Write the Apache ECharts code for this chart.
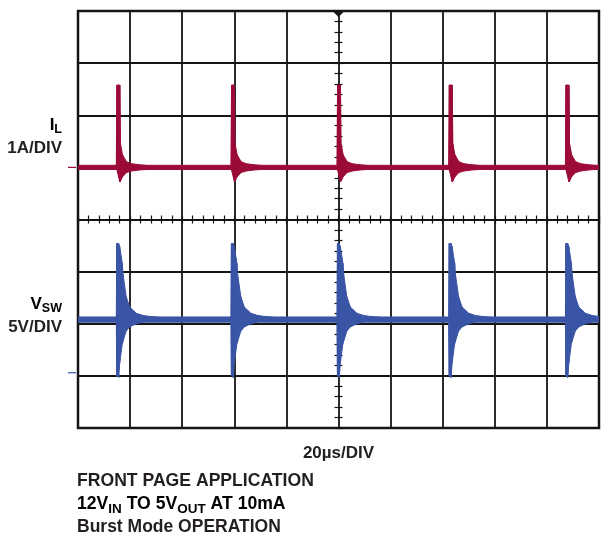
<!DOCTYPE html>
<html><head><meta charset="utf-8">
<script src="https://cdn.jsdelivr.net/npm/echarts@6/dist/echarts.min.js"></script>
<style>html,body{margin:0;padding:0;background:#fff}#c{width:609px;height:538px}</style>
</head><body><div id="c"></div>
<script>
// ---- data ----
const timeRange = [0, 200];            // µs, 20 µs/div
const divRangeX = [-5, 5];             // horizontal divisions
const divRangeY = [-4, 4];             // vertical divisions
const ilRange = [-5, 3];               // A, 1 A/div
const vswRange = [-5.3, 34.7];         // V, 5 V/div
const spikeTimes = [15.6, 59.6, 100.3, 143.2, 188.0]; // µs, burst instants

// inductor current burst envelope (offset from burst instant, µs; A)
const ilOffsets = [-0.9, -0.65, 0.45, 0.7, 1.5, 3.0, 5.0, 8.0, 11.0];
const ilUpper   = [0.04, 1.58, 1.58, 0.45, 0.24, 0.11, 0.07, 0.05, 0.04];
const ilLower   = [-0.04, -0.05, -0.28, -0.26, -0.18, -0.10, -0.07, -0.05, -0.04];
const ilBaseline = [0.04, -0.04];

// switch node voltage burst envelope (offset, µs; V)
const vswOffsets = [-0.9, -0.7, 0.0, 0.4, 1.4, 1.65, 2.9, 4.25, 6.8, 9.3, 12.0, 16.0];
const vswUpper   = [5.35, 12.4, 12.4, 12.1, 10.5, 9.5, 7.3, 6.3, 5.7, 5.5, 5.4, 5.35];
const vswLower   = [4.85, -0.3, -0.45, 0.9, 2.8, 3.0, 4.0, 4.4, 4.7, 4.85, 4.85, 4.85];
const vswBaseline = [5.35, 4.85];

const RED = '#9c0b38', BLUE = '#3a55a5', INK = '#231f20', GRID = '#151515';
const FONT = '"Liberation Sans", Arial, sans-serif';

// build band segments [t0, lo0, up0, t1, lo1, up1]
function buildBand(offsets, upper, lower, base) {
  const pts = [[timeRange[0], base[1], base[0]]];
  spikeTimes.forEach(s => offsets.forEach((o, i) => pts.push([+(s + o).toFixed(3), lower[i], upper[i]])));
  if (pts[pts.length - 1][0] < timeRange[1]) pts.push([timeRange[1], base[1], base[0]]);
  const segs = [];
  for (let i = 0; i < pts.length - 1; i++) segs.push(pts[i].concat(pts[i + 1]));
  return segs;
}
const ilSegs = buildBand(ilOffsets, ilUpper, ilLower, ilBaseline);
const vswSegs = buildBand(vswOffsets, vswUpper, vswLower, vswBaseline);

const chart = echarts.init(document.getElementById('c'), null, {renderer: 'canvas'});

const hidden = {show: false};
function tickAxis(range, pos) {
  return {
    type: 'value', min: range[0], max: range[1], interval: 1, position: pos,
    axisLine: {show: false, onZero: true, onZeroAxisIndex: 0},
    axisTick: {show: true, inside: false, length: 4, lineStyle: {color: GRID, width: 1.2}},
    minorTick: {show: true, splitNumber: 5, length: 4, lineStyle: {color: GRID, width: 1.2}},
    axisLabel: hidden, splitLine: hidden
  };
}
function bandSeries(name, segs, yIdx, color) {
  return {
    type: 'custom', name: name, xAxisIndex: 3, yAxisIndex: yIdx, data: segs, clip: true, silent: true, z: 5,
    encode: {x: [0, 3], y: [1, 2, 4, 5]},
    renderItem: function (params, api) {
      const a = api.coord([api.value(0), api.value(2)]);
      const b = api.coord([api.value(3), api.value(5)]);
      const c = api.coord([api.value(3), api.value(4)]);
      const d = api.coord([api.value(0), api.value(1)]);
      return {type: 'polygon', shape: {points: [a, b, c, d]},
              style: {fill: color, stroke: color, lineWidth: 1}};
    }
  };
}

chart.setOption({
  animation: false,
  backgroundColor: '#fff',
  grid: {left: 78, top: 11, width: 521, height: 417, show: true, borderColor: GRID, borderWidth: 2.5, containLabel: false},
  xAxis: [
    {type: 'value', min: divRangeX[0], max: divRangeX[1], interval: 1, position: 'bottom',
     axisLine: {show: false, onZero: false}, axisTick: hidden, axisLabel: hidden,
     splitLine: {show: true, lineStyle: {color: GRID, width: 1.8}}},
    tickAxis(divRangeX, 'bottom'),
    tickAxis(divRangeX, 'top'),
    {type: 'value', min: timeRange[0], max: timeRange[1], show: false}
  ],
  yAxis: [
    {type: 'value', min: divRangeY[0], max: divRangeY[1], interval: 1, position: 'left',
     axisLine: {show: false, onZero: false}, axisTick: hidden, axisLabel: hidden,
     splitLine: {show: true, lineStyle: {color: GRID, width: 1.8}}},
    tickAxis(divRangeY, 'left'),
    tickAxis(divRangeY, 'right'),
    {type: 'value', min: ilRange[0], max: ilRange[1], show: false},
    {type: 'value', min: vswRange[0], max: vswRange[1], show: false}
  ],
  series: [bandSeries('il', ilSegs, 3, RED), bandSeries('vsw', vswSegs, 4, BLUE)]
});

// decorations positioned through the axes
const cx = chart.convertToPixel({xAxisIndex: 0}, 0);
const topY = chart.convertToPixel({yAxisIndex: 0}, divRangeY[1]);
const il0 = chart.convertToPixel({yAxisIndex: 3}, 0);
const v0 = chart.convertToPixel({yAxisIndex: 4}, 0);
const leftX = chart.convertToPixel({xAxisIndex: 0}, divRangeX[0]);

function richStyles(fs, ss) {
  return {
    m: {fontSize: fs, fontWeight: 'bold', fontFamily: FONT, color: INK, verticalAlign: 'bottom', lineHeight: fs, padding: [0, 0, 3, 0]},
    s: {fontSize: ss, fontWeight: 'bold', fontFamily: FONT, color: INK, verticalAlign: 'bottom', lineHeight: ss}
  };
}
function plain(text, x, baseline, align, fs) {
  return {type: 'text', x: x, y: baseline - 5.5, style: {text: text, fill: INK, font: 'bold ' + fs + 'px ' + FONT, align: align, verticalAlign: 'middle'}};
}
function richText(text, x, baseline, align, fs, ss) {
  return {type: 'text', x: x, y: baseline + 6, style: {text: text, align: align, verticalAlign: 'bottom', rich: richStyles(fs, ss)}};
}

chart.setOption({
  graphic: [
    {type: 'polygon', shape: {points: [[cx - 6, topY], [cx + 6, topY], [cx, topY + 6]]}, style: {fill: GRID}, z: 10},
    {type: 'line', shape: {x1: leftX - 10, y1: il0, x2: leftX - 2, y2: il0}, style: {stroke: RED, lineWidth: 1.2}},
    {type: 'line', shape: {x1: leftX - 10, y1: v0, x2: leftX - 2, y2: v0}, style: {stroke: BLUE, lineWidth: 1.2}},
    richText('{m|I}{s|L}', 62, 130.5, 'right', 17, 12.5),
    plain('1A/DIV', 62, 154, 'right', 17),
    richText('{m|V}{s|SW}', 62, 309.5, 'right', 17, 12.5),
    plain('5V/DIV', 62, 333, 'right', 17),
    plain('20µs/DIV', cx, 459, 'center', 17),
    plain('FRONT PAGE APPLICATION', 77, 487, 'left', 17.6),
    richText('{m|12V}{s|IN}{m| TO 5V}{s|OUT}{m| AT 10mA}', 77, 510, 'left', 17.6, 13.5),
    plain('Burst Mode OPERATION', 77, 532.5, 'left', 17.5)
  ]
});
</script>
</body></html>
